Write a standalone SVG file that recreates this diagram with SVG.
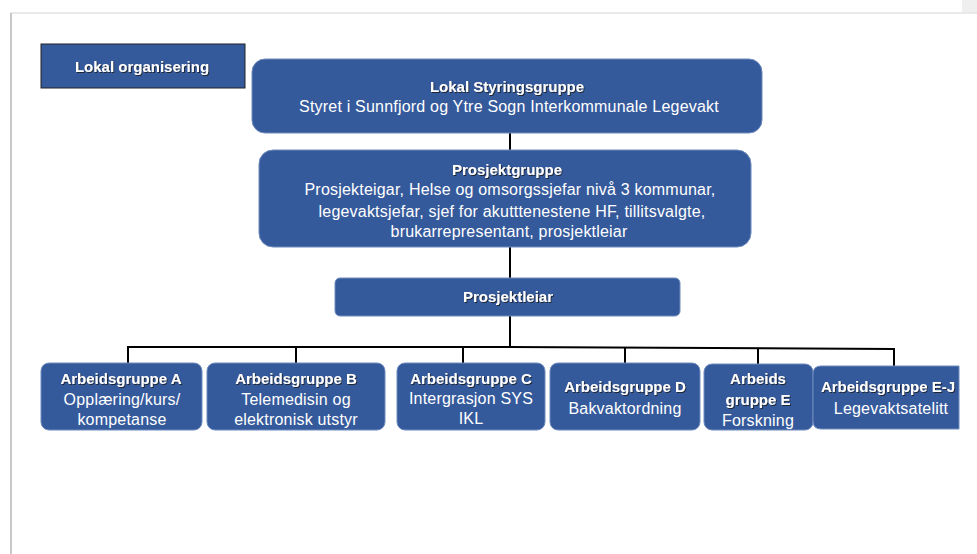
<svg xmlns="http://www.w3.org/2000/svg" width="977" height="554" viewBox="0 0 977 554">
<style>
.box{fill:#355a9c;stroke:#6f8bbd;stroke-width:1}
.t{font-family:"Liberation Sans",Arial,sans-serif;fill:#ffffff;text-anchor:middle}
.b{font-weight:bold;font-size:15px;filter:url(#sh)}
.r{font-size:16px;letter-spacing:0.2px}
.c{fill:none;stroke:#000;stroke-width:2}
</style>
<defs>
<filter id="sh" x="-10%" y="-30%" width="120%" height="160%">
<feDropShadow dx="1" dy="1" stdDeviation="0.6" flood-color="#1a1a1a" flood-opacity="0.8"/>
</filter>
</defs>
<rect x="0" y="0" width="977" height="554" fill="#ffffff"/>
<g id="page">
<rect x="962" y="0" width="15" height="13" fill="#efefef"/>
<line x1="10" y1="13" x2="977" y2="13" stroke="#e3e3e3" stroke-width="1.5"/>
<line x1="11" y1="13" x2="11" y2="554" stroke="#c8c8c8" stroke-width="2"/>
</g>
<g id="connectors">
<line class="c" x1="510" y1="133" x2="510" y2="150"/>
<line class="c" x1="510" y1="247" x2="510" y2="278"/>
<line class="c" x1="510" y1="316" x2="510" y2="347"/>
<polyline class="c" points="128,347 510,347 894,349"/>
<line class="c" x1="128" y1="346" x2="128" y2="364"/>
<line class="c" x1="296" y1="347" x2="296" y2="364"/>
<line class="c" x1="463" y1="347" x2="463" y2="364"/>
<line class="c" x1="625" y1="348" x2="625" y2="364"/>
<line class="c" x1="758" y1="348" x2="758" y2="364"/>
<line class="c" x1="894" y1="348" x2="894" y2="366"/>
</g>
<g id="lokal-organisering">
<rect x="41" y="44" width="204" height="44" fill="#355a9c" stroke="#222" stroke-width="1"/>
<text class="t b" x="142" y="72">Lokal organisering</text>
</g>
<g id="styringsgruppe">
<rect class="box" x="252" y="59" width="510" height="74" rx="13"/>
<text class="t b" x="507" y="92">Lokal Styringsgruppe</text>
<text class="t r" x="509" y="112">Styret i Sunnfjord og Ytre Sogn Interkommunale Legevakt</text>
</g>
<g id="prosjektgruppe">
<rect class="box" x="259" y="150" width="492" height="97" rx="14"/>
<text class="t b" x="507" y="175">Prosjektgruppe</text>
<text class="t r" x="510" y="195">Prosjekteigar, Helse og omsorgssjefar nivå 3 kommunar,</text>
<text class="t r" x="512" y="217">legevaktsjefar, sjef for akutttenestene HF, tillitsvalgte,</text>
<text class="t r" x="509" y="237">brukarrepresentant, prosjektleiar</text>
</g>
<g id="prosjektleiar">
<rect class="box" x="335" y="278" width="345" height="38" rx="5"/>
<text class="t b" x="508" y="302">Prosjektleiar</text>
</g>
<g id="gruppe-a">
<rect class="box" x="41" y="363" width="161" height="67" rx="8"/>
<text class="t b" x="121" y="384">Arbeidsgruppe A</text>
<text class="t r" x="122" y="405">Opplæring/kurs/</text>
<text class="t r" x="122" y="425">kompetanse</text>
</g>
<g id="gruppe-b">
<rect class="box" x="207" y="363" width="178" height="67" rx="8"/>
<text class="t b" x="296" y="384">Arbeidsgruppe B</text>
<text class="t r" x="296" y="405">Telemedisin og</text>
<text class="t r" x="296" y="425">elektronisk utstyr</text>
</g>
<g id="gruppe-c">
<rect class="box" x="397" y="363" width="148" height="67" rx="8"/>
<text class="t b" x="471" y="384">Arbeidsgruppe C</text>
<text class="t r" x="471" y="404">Intergrasjon SYS</text>
<text class="t r" x="471" y="424">IKL</text>
</g>
<g id="gruppe-d">
<rect class="box" x="550" y="363" width="150" height="67" rx="8"/>
<text class="t b" x="625" y="392">Arbeidsgruppe D</text>
<text class="t r" x="625" y="414">Bakvaktordning</text>
</g>
<g id="gruppe-e">
<rect class="box" x="704" y="364" width="109" height="66" rx="8"/>
<text class="t b" x="758" y="384">Arbeids</text>
<text class="t b" x="758" y="405">gruppe E</text>
<text class="t r" x="758" y="426">Forskning</text>
</g>
<g id="gruppe-ej">
<path class="box" d="M821,366 H959 V429 H821 Q813,429 813,421 V374 Q813,366 821,366 Z"/>
<text class="t b" x="888" y="392">Arbeidsgruppe E-J</text>
<text class="t r" x="891" y="414">Legevaktsatelitt</text>
</g>
</svg>
